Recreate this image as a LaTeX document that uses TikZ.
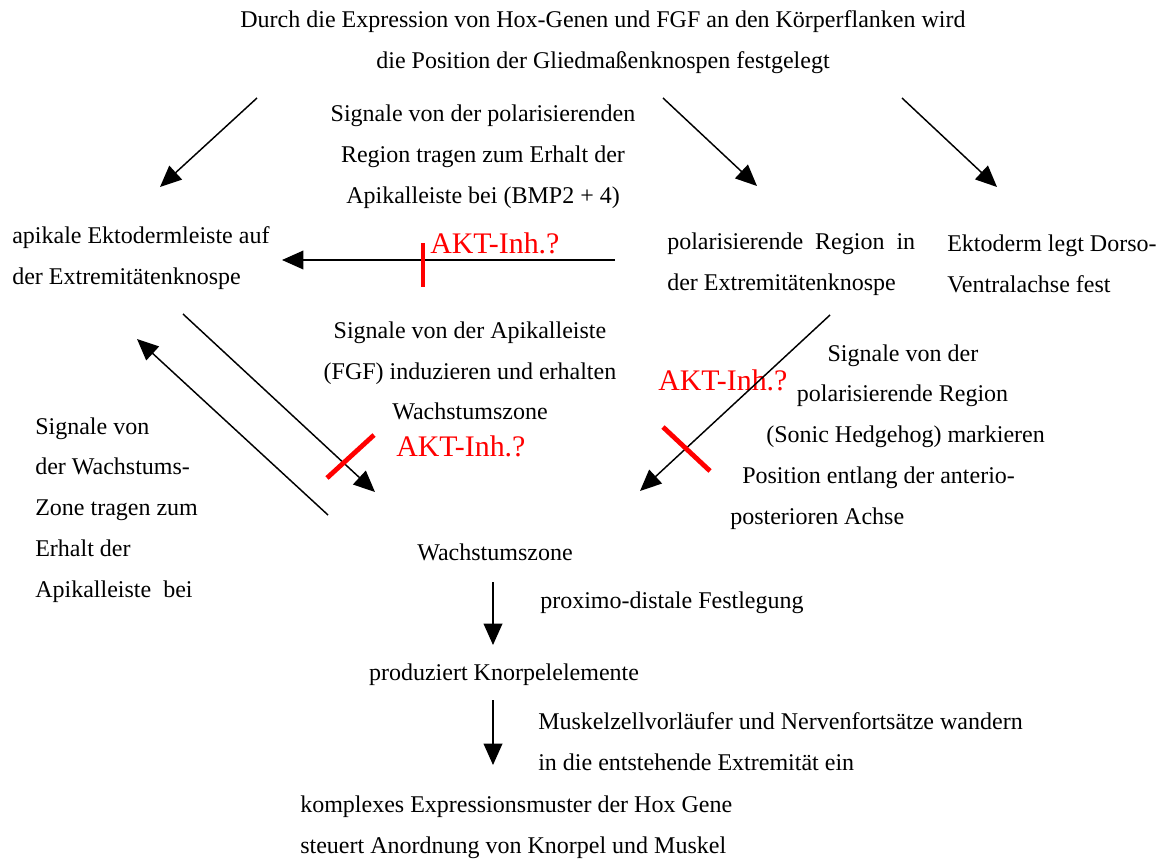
\documentclass[tikz,border=0pt]{standalone}
\usepackage{fontspec}
\setmainfont{Liberation Serif}
\usetikzlibrary{arrows.meta}

\begin{document}
\begin{tikzpicture}[x=0.75pt,y=0.75pt,yscale=-1,xscale=1,
  txt/.style={inner sep=0pt, font=\fontsize{18}{30.6}\selectfont},
  akt/.style={inner sep=0pt, text=red, font=\fontsize{22.4}{24}\selectfont},
  arr/.style={-{Triangle[length=16pt,width=14pt]}, line width=1.1pt},
  blocker/.style={draw=red, line width=3.6pt}]
\useasboundingbox (0,0) rectangle (1160,865);

% Text Node
\node[txt, align=center] (pos) at (603,42) {Durch die Expression von Hox-Genen und FGF an den Körperflanken wird\\die Position der Gliedmaßenknospen festgelegt};
% Text Node
\node[txt, align=center] (zpa) at (483,157) {Signale von der polarisierenden\\Region tragen zum Erhalt der\\Apikalleiste bei (BMP2 + 4)};
% Text Node
\node[txt, align=left, anchor=west] (aer) at (12,258) {apikale Ektodermleiste auf\\der Extremitätenknospe};
% Text Node
\node[txt, align=left, anchor=west] (pr) at (667,264) {polarisierende\hspace{0.5em}Region\hspace{0.5em}in\\der Extremitätenknospe};
% Text Node
\node[txt, align=left, anchor=west] (ekt) at (947,264) {Ektoderm legt Dorso-\\Ventralachse fest};
% Text Node
\node[txt, align=center] (fgf) at (470,371) {Signale von der Apikalleiste\\(FGF) induzieren und erhalten\\Wachstumszone};
% Text Node
\node[txt, align=left, anchor=west] (wz) at (35,510) {Signale von\\der Wachstums-\\Zone tragen zum\\Erhalt der\\Apikalleiste\ \ bei};
% Text Node
\node[txt, align=left, anchor=west] (shh) at (730,437) {\hspace*{73pt}Signale von der\\\hspace*{50pt}polarisierende Region\\\hspace*{27pt}(Sonic Hedgehog) markieren\\\hspace*{9pt}Position entlang der anterio-\\posterioren Achse};
% Text Node
\node[txt] (zone) at (495,552) {Wachstumszone};
% Text Node
\node[txt, anchor=west] (pd) at (540,603) {proximo-distale Festlegung};
% Text Node
\node[txt] (knorpel) at (504,675) {produziert Knorpelelemente};
% Text Node
\node[txt, align=left, anchor=west] (muskel) at (538,742) {Muskelzellvorläufer und Nervenfortsätze wandern\\in die entstehende Extremität ein};
% Text Node
\node[txt, align=left, anchor=west] (hox) at (300,827) {komplexes Expressionsmuster der Hox Gene\\steuert Anordnung von Knorpel und Muskel};

% Red labels
\node[akt, anchor=west] (akt1) at (430,243) {AKT-Inh.?};
\node[akt, anchor=west] (akt2) at (396,446) {AKT-Inh.?};
\node[akt, anchor=west] (akt3) at (658,380) {AKT-Inh.?};

% Arrow ends
\coordinate (pos-l) at (257,98);
\coordinate (aer-in) at (160,187);
\coordinate (pos-m) at (663,98);
\coordinate (pr-in) at (757,186);
\coordinate (pos-r) at (902,98);
\coordinate (ekt-in) at (997,187);
\coordinate (pr-out) at (615,260);
\coordinate (aer-r) at (282,260);
\coordinate (aer-out) at (183,314);
\coordinate (zone-l) at (375,492);
\coordinate (zone-out) at (328,515);
\coordinate (aer-b) at (137,339);
\coordinate (pr-b) at (830,315);
\coordinate (zone-r) at (640,491);
\coordinate (zone-b) at (493,582);
\coordinate (knorpel-t) at (493,645);
\coordinate (knorpel-b) at (493,700);
\coordinate (hox-t) at (493,765);

% Connection
\draw[arr] (pos-l) -- (aer-in);
\draw[arr] (pos-m) -- (pr-in);
\draw[arr] (pos-r) -- (ekt-in);
\draw[arr] (pr-out) -- (aer-r);
\draw[arr] (aer-out) -- (zone-l);
\draw[arr] (zone-out) -- (aer-b);
\draw[arr] (pr-b) -- (zone-r);
\draw[arr] (zone-b) -- (knorpel-t);
\draw[arr] (knorpel-b) -- (hox-t);

% Inhibition bars
\draw[blocker] (423,243) -- (423,287);
\draw[blocker] (327,478) -- (374,435);
\draw[blocker] (663,427) -- (710,471);

\end{tikzpicture}
\end{document}
